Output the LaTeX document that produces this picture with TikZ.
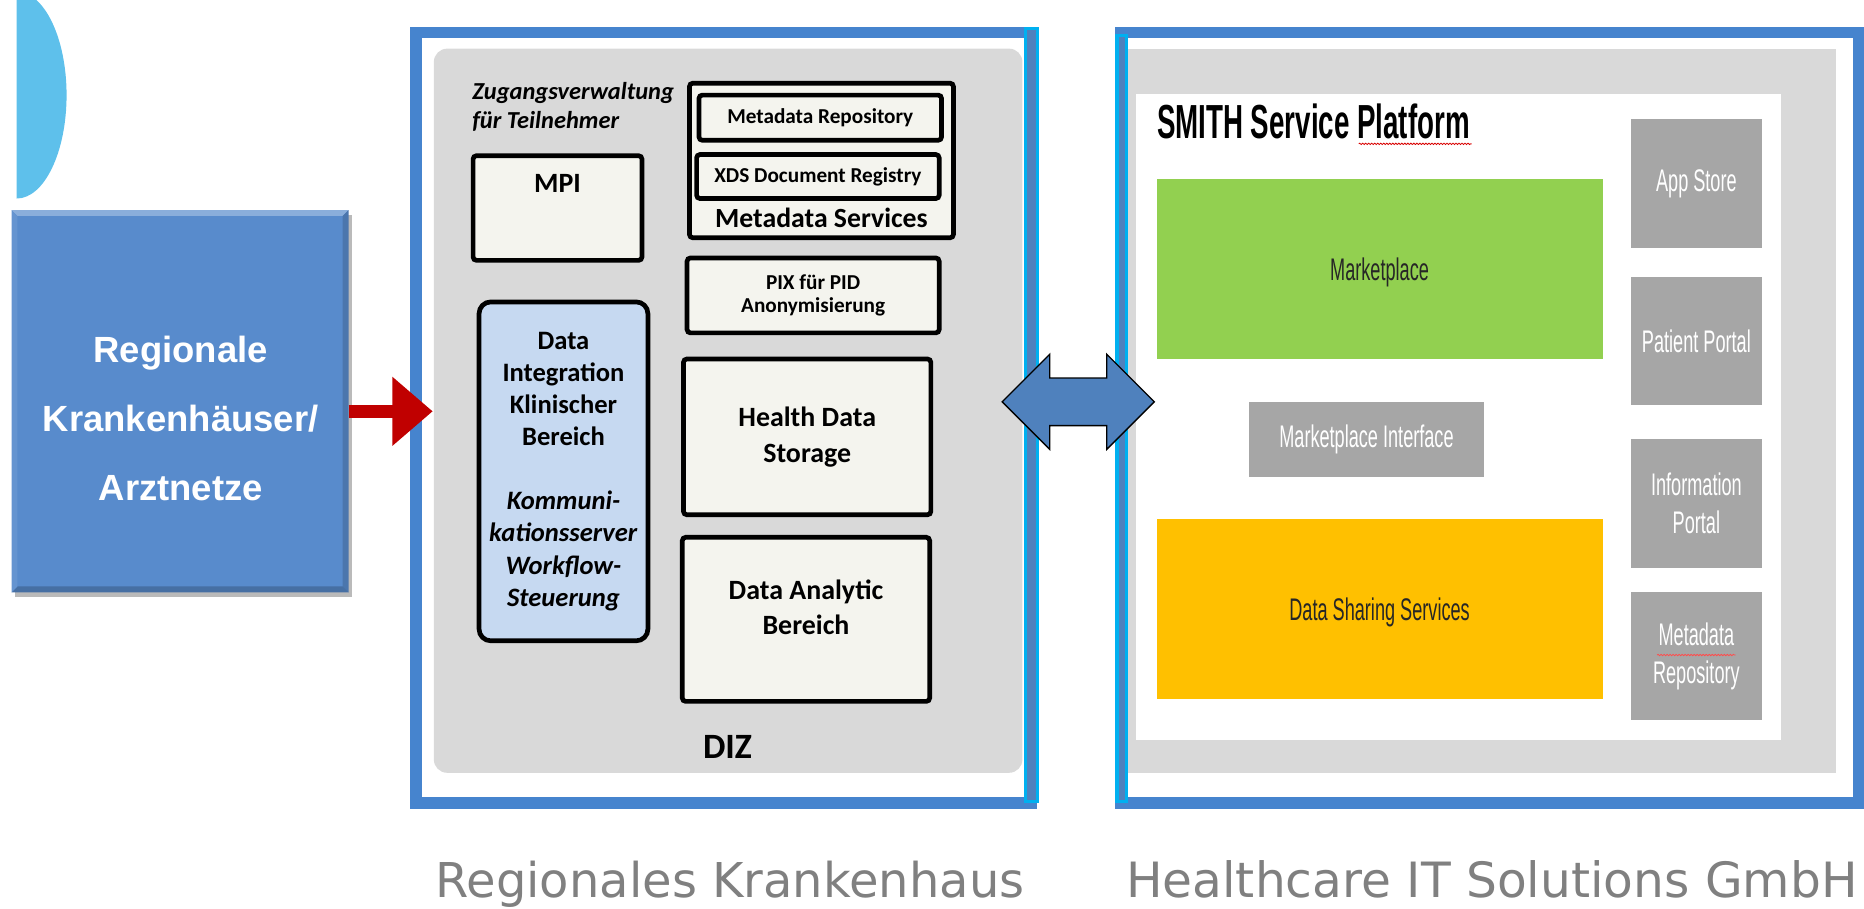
\documentclass[tikz,border=0pt]{standalone}
\usepackage{fontspec}
\setmainfont{Carlito}
\newfontfamily\arialfont{Liberation Sans}
\newfontfamily\narrowfont[FakeStretch=0.58]{Liberation Sans}
\newfontfamily\captionfont{DejaVu Sans}
\usepackage{tikz}
\usetikzlibrary{arrows.meta,calc,shadows,decorations.pathmorphing,positioning}

\definecolor{framebl}{RGB}{70,132,206}
\definecolor{barcyan}{RGB}{0,176,240}
\definecolor{barblue}{RGB}{79,129,189}
\definecolor{panelgray}{RGB}{217,217,217}
\definecolor{boxfill}{RGB}{244,244,238}
\definecolor{dibfill}{RGB}{198,217,241}
\definecolor{rkblue}{RGB}{88,139,204}
\definecolor{mpgreen}{RGB}{146,208,80}
\definecolor{dsyellow}{RGB}{255,192,0}
\definecolor{tilegray}{RGB}{166,166,166}
\definecolor{arrowred}{RGB}{192,0,0}
\definecolor{capgray}{RGB}{128,128,128}
\definecolor{moonblue}{RGB}{94,192,235}

\tikzstyle{outerframe} = [draw=framebl,line width=6.8pt,inner sep=0pt]
\tikzstyle{panel} = [fill=panelgray,inner sep=0pt]
\tikzstyle{bar} = [draw=barcyan,fill=barblue,line width=2pt]
\tikzstyle{dizbox} = [draw=black,line width=2.8pt,fill=boxfill,rounded corners=2pt,
  inner sep=0pt,align=center,font=\bfseries]
\tikzstyle{dizlabel} = [inner sep=0pt,align=center,font=\bfseries]
\tikzstyle{colbox} = [inner sep=0pt,align=center,text=black!85,text depth=0pt,
  font=\narrowfont\fontsize{18.7}{22.8}\selectfont]
\tikzstyle{tile} = [fill=tilegray,text=white,inner sep=0pt,align=center,
  minimum width=2.75cm,font=\narrowfont\fontsize{18.7}{22.8}\selectfont]
\tikzstyle{footlabel} = [text=capgray,inner sep=0pt,anchor=base]
\tikzstyle{squiggle} = [draw=red!85!black,line width=0.5pt,decorate,
  decoration={snake,amplitude=0.4pt,segment length=1.8pt}]

\begin{document}
\begin{tikzpicture}[x=0.025cm,y=-0.025cm]
\useasboundingbox (0,0) rectangle (1568,764);

\fill[moonblue] (14,-7) arc[start angle=-90,end angle=90,x radius=42,y radius=87] -- cycle;

\node[fill=rkblue,inner sep=0pt,minimum width=7.075cm,minimum height=8.025cm,
  drop shadow={shadow xshift=2pt,shadow yshift=-3pt,fill=black!60,opacity=.45}]
  (rk) at (151.5,337.5) {};
\fill[rkblue!70!white] (rk.north west) -- (rk.north east) -- ++(-5,5) -- ($(rk.north west)+(5,5)$) -- cycle;
\fill[rkblue!85!black] (rk.north east) -- (rk.south east) -- ++(-5,-5) -- ($(rk.north east)+(-5,5)$) -- cycle;
\fill[rkblue!80!black] (rk.south west) -- (rk.south east) -- ++(-5,-5) -- ($(rk.south west)+(5,-5)$) -- cycle;
\fill[rkblue!92!white] (rk.north west) -- (rk.south west) -- ++(5,-5) -- ($(rk.north west)+(5,5)$) -- cycle;
\node[text=white,align=center,font=\arialfont\bfseries\fontsize{21.8}{41.3}\selectfont]
  (rktext) at (152,352) {Regionale\\Krankenhäuser/\\Arztnetze};

\node[outerframe,minimum width=12.9375cm,minimum height=16.205cm] (lf) at (608.75,351.4) {};
\node[panel,rounded corners=8pt,minimum width=12.375cm,minimum height=15.225cm]
  (dizpanel) at (612.5,345.5) {};
\draw[bar] (862.5,24) rectangle (872.5,674);

\node[dizlabel,anchor=west,font=\bfseries\itshape\fontsize{14.6}{17}\selectfont,align=left]
  (zug) at (397,90) {Zugangsverwaltung\\für Teilnehmer};
\node[dizbox,minimum width=3.55cm,minimum height=2.2cm] (mpi) at (469,175) {};
\node[dizlabel,font=\bfseries\fontsize{16.7}{20}\selectfont] (mpitxt) at (469,154) {MPI};
\node[dizbox,minimum width=5.55cm,minimum height=3.25cm] (msvc) at (691,135) {};
\node[dizbox,minimum width=5.1cm,minimum height=0.95cm,font=\bfseries\fontsize{12.7}{14.2}\selectfont]
  (mrepo) at (690,99) {Metadata Repository};
\node[dizbox,minimum width=5.1cm,minimum height=0.925cm,font=\bfseries\fontsize{12.7}{14.2}\selectfont]
  (xds) at (688,148.5) {XDS Document Registry};
\node[dizlabel,font=\bfseries\fontsize{16.6}{20}\selectfont] (msvctxt) at (691,183) {Metadata Services};
\node[dizbox,minimum width=5.3cm,minimum height=1.575cm,font=\bfseries\fontsize{12.7}{14.2}\selectfont]
  (pix) at (684,248.5) {PIX für PID\\Anonymisierung};
\node[dizbox,fill=dibfill,rounded corners=7pt,minimum width=3.55cm,minimum height=7.125cm,
  font=\bfseries\fontsize{15.9}{19.2}\selectfont] (dib) at (474,396.5)
  {Data\\Integration\\Klinischer\\Bereich\\[19.2pt]\textit{Kommuni-}\\\textit{kationsserver}\\
   \textit{Workflow-}\\\textit{Steuerung}};
\node[dizbox,minimum width=5.2cm,minimum height=3.275cm,font=\bfseries\fontsize{16.7}{21.3}\selectfont]
  (hds) at (679,367.5) {Health Data\\Storage};
\node[dizbox,minimum width=5.2cm,minimum height=3.45cm] (dab) at (678,521) {};
\node[dizlabel,font=\bfseries\fontsize{16.7}{21.3}\selectfont] (dabtxt) at (678,511) {Data Analytic\\Bereich};
\node[dizlabel,font=\bfseries\fontsize{21.3}{25}\selectfont] (diz) at (612,628) {DIZ};

\node[outerframe,minimum width=15.5125cm,minimum height=16.205cm] (rf) at (1253.05,351.4) {};
\node[panel,minimum width=14.875cm,minimum height=15.225cm] (smithpanel) at (1246.5,345.5) {};
\node[fill=white,inner sep=0pt,minimum width=13.55cm,minimum height=13.575cm]
  (platform) at (1227,350.5) {};
\draw[bar] (939.5,30) rectangle (947.5,674);

\node[anchor=west,inner sep=0pt,font=\narrowfont\bfseries\fontsize{28.6}{30}\selectfont]
  (smith) at (973,102) {SMITH Service Platform};
\draw[squiggle] (1143,121) -- (1238,121);
\node[colbox,fill=mpgreen,minimum width=9.375cm,minimum height=3.775cm]
  (market) at (1160.5,226.5) {Marketplace};
\node[tile,minimum width=4.925cm,minimum height=1.575cm] (mif) at (1149.5,369.5) {Marketplace Interface};
\node[colbox,fill=dsyellow,minimum width=9.375cm,minimum height=3.775cm]
  (dss) at (1160.5,512.5) {Data Sharing Services};
\node[tile,minimum height=2.725cm] (appstore) at (1427,154.5) {App Store};
\node[tile,minimum height=2.7cm] (patport) at (1427,287) {Patient Portal};
\node[tile,minimum height=2.725cm] (infoport) at (1427,423.5) {Information\\Portal};
\node[tile,minimum height=2.7cm] (metarepo) at (1427,552) {Metadata\\Repository};
\draw[squiggle,draw=red!70!white] (1394,551) -- (1460,551);

\coordinate (redtip) at (364,346);
\draw[draw=arrowred,line width=7.8pt,-{Triangle[length=0.85cm,width=1.4cm]}]
  (rk.east |- redtip) -- (redtip);

\coordinate (dblmid) at (907,338);
\draw[fill=barblue,draw=black,line width=0.8pt,shift={(dblmid)}]
  (-64,0) -- (-24,-40) -- (-24,-20) -- (24,-20) -- (24,-40) -- (64,0)
  -- (24,40) -- (24,20) -- (-24,20) -- (-24,40) -- cycle;

\node[footlabel,font=\captionfont\fontsize{28.7}{33}\selectfont] (lfcap) at (614,755) {Regionales Krankenhaus};
\node[footlabel,font=\captionfont\fontsize{29.1}{33}\selectfont] (rfcap) at (1255,755) {Healthcare IT Solutions GmbH};
\end{tikzpicture}
\end{document}
